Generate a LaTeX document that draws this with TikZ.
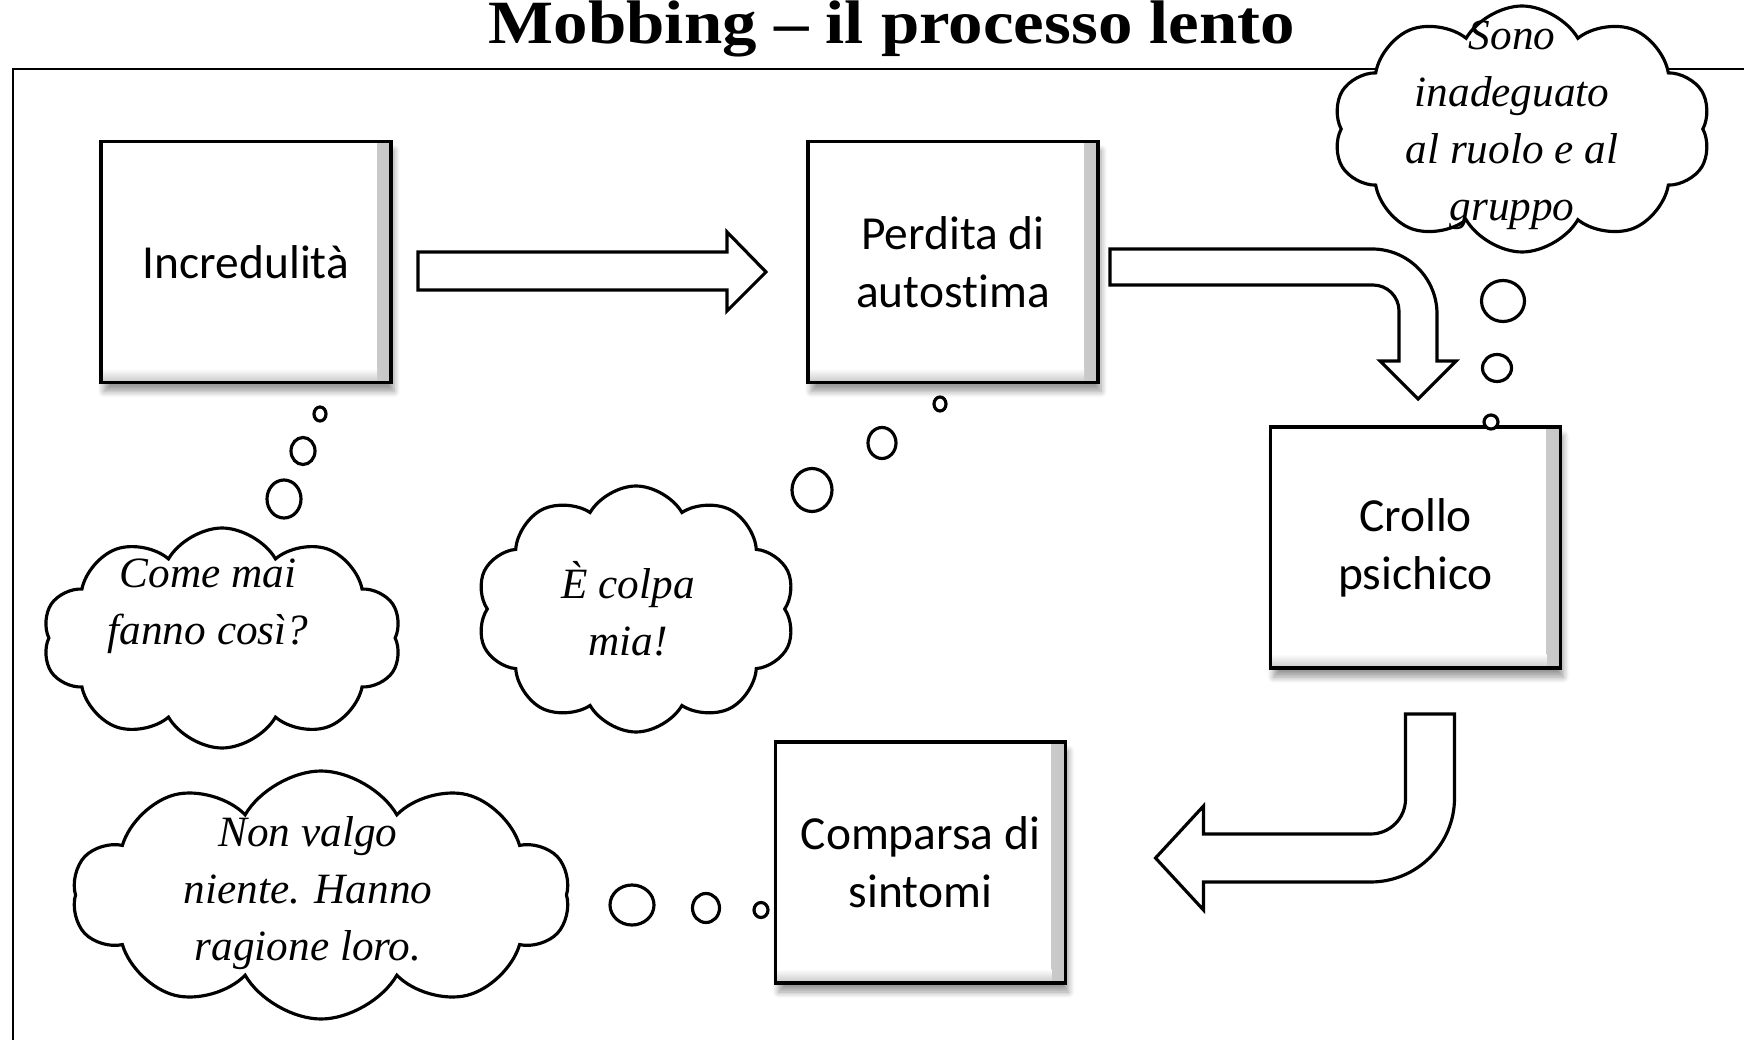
\documentclass[tikz,border=0pt]{standalone}
\usepackage{fontspec}
\newfontfamily\boxfont[Ligatures=NoCommon]{Carlito}
\newfontfamily\titlefont{Liberation Serif}
\usetikzlibrary{calc,shapes.symbols,shapes.geometric,shadows.blur}

\begin{document}
\begin{tikzpicture}[
    fase/.style={draw, line width=1.1pt, fill=white, minimum width=2.90cm, minimum height=2.41cm,
      inner sep=0pt, outer sep=0pt, align=center, font=\boxfont\fontsize{13.5}{16.5}\selectfont,
      blur shadow={shadow xshift=0.3mm, shadow yshift=-0.9mm, shadow blur steps=6, shadow opacity=40},
      path picture={
        \shade[left color=white, right color=black!22] ([xshift=-1.4mm]path picture bounding box.north east) rectangle (path picture bounding box.south east);
        \shade[top color=white, bottom color=black!22] ([yshift=1.4mm]path picture bounding box.south west) rectangle ([xshift=-1.4mm]path picture bounding box.south east);
      }},
    freccia/.style={draw, line width=0.9pt, fill=white, line join=miter},
    nuvola/.style={cloud, cloud puffs=10, cloud puff arc=120, cloud ignores aspect, draw, line width=0.9pt, fill=white, inner sep=0pt},
    pensiero/.style={align=center, font=\titlefont\itshape\fontsize{12.3}{16.2}\selectfont},
    bolla/.style={ellipse, draw, line width=0.9pt, fill=white, inner sep=0pt},
  ]
    \useasboundingbox (0,0) rectangle (17.44,-10.40);

    % cornice e titolo
    \draw[line width=0.7pt] (0.13,-10.40) -- (0.13,-0.69) -- (17.44,-0.69);
    \node[anchor=base, xscale=1.12, transform shape, font=\titlefont\bfseries\fontsize{17.5}{20}\selectfont] (titolo) at (8.92,-0.44) {Mobbing – il processo lento};

    % le quattro fasi
    \node[fase] (incred) at (2.46,-2.62) {Incredulità};
    \node[fase] (autost) at (9.53,-2.62) {Perdita di\\autostima};
    \node[fase] (crollo) at (14.155,-5.475) {Crollo\\psichico};
    \node[fase] (sintomi) at (9.205,-8.625) {Comparsa di\\sintomi};

    % frecce larghe
    \draw[freccia] ($(incred.east)+(0.27,0.10)$) -- ++(3.09,0) -- ++(0,0.20) -- ++(0.39,-0.40)
      -- ++(-0.39,-0.39) -- ++(0,0.21) -- ++(-3.09,0) -- cycle;
    \draw[freccia] ($(autost.east)+(0.12,0.13)$) -- ++(2.62,0) arc (90:0:0.65) -- ++(0,-0.47)
      -- ++(0.19,0) -- ++(-0.38,-0.38) -- ++(-0.38,0.38) -- ++(0.19,0) -- ++(0,0.50)
      arc (0:90:0.26) -- ++(-2.63,0) -- cycle;
    \draw[freccia] ($(crollo.south)+(-0.10,-0.46)$) -- ++(0.49,0) -- ++(0,-0.84) arc (0:-90:0.84)
      -- ++(-1.67,0) -- ++(0,-0.28) -- ++(-0.48,0.52) -- ++(0.48,0.52) -- ++(0,-0.28)
      -- ++(1.67,0) arc (-90:0:0.35) -- cycle;

    % nuvolette
    \node[nuvola, minimum width=3.59cm, minimum height=2.20cm] (ncome) at (2.22,-6.38) {};
    \node[nuvola, minimum width=3.19cm, minimum height=2.46cm] (ncolpa) at (6.36,-6.09) {};
    \node[nuvola, minimum width=4.97cm, minimum height=2.48cm] (nvalgo) at (3.21,-8.95) {};
    \node[nuvola, minimum width=3.78cm, minimum height=2.46cm] (nsono) at (15.22,-1.29) {};

    \node[pensiero] (tcome) at (2.08,-6.06) {Come mai\\fanno così?};
    \node[pensiero] (tcolpa) at (6.28,-6.09) {È colpa\\mia!};
    \node[pensiero] (tvalgo) at (3.08,-8.93) {Non valgo\\niente. Hanno\\ragione loro.};
    \node[pensiero] (tsono) at (15.12,-1.25) {Sono\\inadeguato\\al ruolo e al\\gruppo};

    % bollicine
    \node[bolla, minimum width=1.2mm, minimum height=1.4mm] (ca1) at (3.20,-4.14) {};
    \node[bolla, minimum width=2.4mm, minimum height=2.7mm] (ca2) at (3.03,-4.51) {};
    \node[bolla, minimum width=3.4mm, minimum height=3.8mm] (ca3) at (2.84,-4.99) {};

    \node[bolla, minimum width=1.2mm, minimum height=1.4mm] (cb1) at (9.40,-4.04) {};
    \node[bolla, minimum width=2.8mm, minimum height=3.1mm] (cb2) at (8.82,-4.43) {};
    \node[bolla, minimum width=4.0mm, minimum height=4.3mm] (cb3) at (8.12,-4.90) {};

    \node[bolla, minimum width=1.4mm, minimum height=1.5mm] (cc1) at (7.61,-9.10) {};
    \node[bolla, minimum width=2.7mm, minimum height=2.9mm] (cc2) at (7.06,-9.08) {};
    \node[bolla, minimum width=4.4mm, minimum height=4.0mm] (cc3) at (6.32,-9.05) {};

    \node[bolla, minimum width=1.4mm, minimum height=1.4mm] (cd1) at (14.91,-4.22) {};
    \node[bolla, minimum width=2.9mm, minimum height=2.7mm] (cd2) at (14.97,-3.68) {};
    \node[bolla, minimum width=4.3mm, minimum height=4.1mm] (cd3) at (15.03,-3.01) {};
  \end{tikzpicture}
\end{document}
